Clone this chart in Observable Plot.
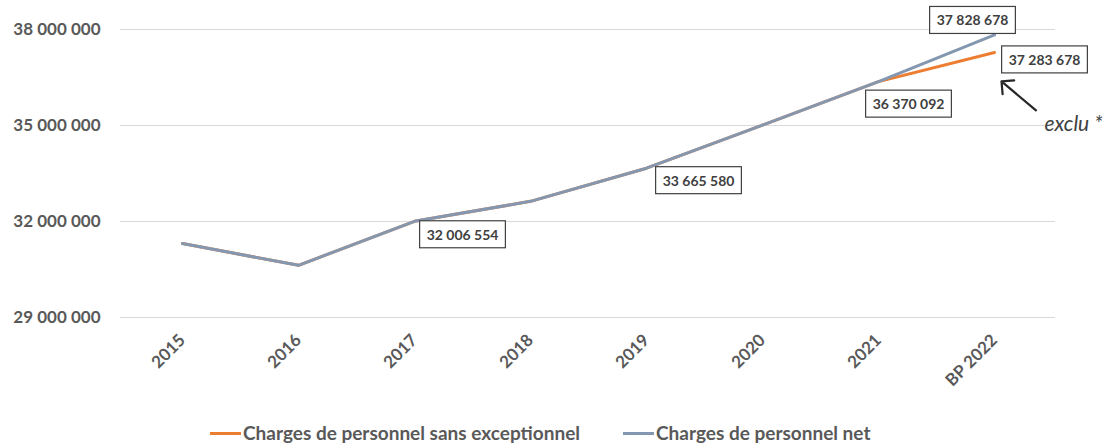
<!DOCTYPE html>
<html><head><meta charset="utf-8">
<script src="https://cdn.jsdelivr.net/npm/d3@7"></script>
<script src="https://cdn.jsdelivr.net/npm/@observablehq/plot@0.6"></script>
<style>
body{margin:0;background:#fff;font-family:Lato,"Open Sans",sans-serif;}
#wrap{position:relative;width:1116px;height:444px;}
#legend{position:absolute;left:210px;top:421px;display:flex;align-items:center;font-weight:700;font-size:19px;color:#595959;white-space:nowrap;line-height:24px;}
.sw{display:inline-block;width:31px;height:3px;margin-right:2px;}
.item{display:flex;align-items:center;}
</style></head><body>
<div id="wrap"><div id="chart"></div><div id="legend"></div></div>
<script>
const years = ["2015","2016","2017","2018","2019","2020","2021","BP 2022"];
const netValues = [31310000, 30630000, 32006554, 32630000, 33665580, 35010000, 36370092, 37828678];
const sansExceptionnelValues = [31310000, 30630000, 32006554, 32630000, 33665580, 35010000, 36370092, 37283678];
const yTicks = [29000000, 32000000, 35000000, 38000000];
const seriesNames = ["Charges de personnel sans exceptionnel", "Charges de personnel net"];
const seriesColors = ["#ed7d31", "#8497b0"];
const noteText = "exclu *";

const fmt = d => d3.format(",")(d).replace(/,/g, " ");
const net = years.map((y, i) => ({year: y, value: netValues[i]}));
const sans = years.map((y, i) => ({year: y, value: sansExceptionnelValues[i]}));
const pick = (arr, y) => arr.filter(d => d.year === y);
const lblStyle = {text: d => fmt(d.value), fontSize: 14, fontWeight: 700, fill: "#404040", className: "boxed"};

const chart = Plot.plot({
  width: 1116, height: 400,
  marginTop: 29, marginBottom: 83, marginLeft: 120, marginRight: 61,
  style: {fontFamily: "Lato, 'Open Sans', sans-serif", background: "#fff", overflow: "visible"},
  x: {type: "point", domain: years, padding: 0.5, label: null},
  y: {domain: [29000000, 38000000], ticks: yTicks, label: null},
  marks: [
    Plot.gridY(yTicks, {stroke: "#d9d9d9", strokeOpacity: 1, strokeWidth: 1}),
    Plot.axisY(yTicks, {tickSize: 0, tickPadding: 20, tickFormat: fmt, fontSize: 17, fontWeight: 700, fill: "#595959", label: null}),
    Plot.axisX({tickSize: 0, tickPadding: 20, tickRotate: -45, fontSize: 17, fontWeight: 700, fill: "#595959", label: null}),
    Plot.line(sans, {x: "year", y: "value", stroke: seriesColors[0], strokeWidth: 3}),
    Plot.line(net, {x: "year", y: "value", stroke: seriesColors[1], strokeWidth: 3}),
    Plot.text(pick(net, "2017"), {x: "year", y: "value", ...lblStyle, dx: 48, dy: 14}),
    Plot.text(pick(net, "2019"), {x: "year", y: "value", ...lblStyle, dx: 52, dy: 13}),
    Plot.text(pick(net, "2021"), {x: "year", y: "value", ...lblStyle, dx: 30, dy: 23}),
    Plot.text(pick(net, "BP 2022"), {x: "year", y: "value", ...lblStyle, dx: -22, dy: -14}),
    Plot.text(pick(sans, "BP 2022"), {x: "year", y: "value", ...lblStyle, dx: 50, dy: 8}),
    Plot.vector(pick(sans, "BP 2022"), {x: "year", y: "value", dx: 7, dy: 29, rotate: -50, length: 45, anchor: "end", shape: "arrow", stroke: "#262626", strokeWidth: 2.2}),
    Plot.text(pick(sans, "BP 2022"), {x: "year", y: "value", text: () => noteText, dx: 50, dy: 72, textAnchor: "start", fontSize: 21, fontStyle: "italic", fill: "#404040"})
  ]
});
document.getElementById("chart").appendChild(chart);

// boxes around data labels, sized from the rendered text
chart.querySelectorAll("g.boxed text").forEach(t => {
  const b = t.getBBox();
  const r = document.createElementNS("http://www.w3.org/2000/svg", "rect");
  const px = 7, py = 6;
  r.setAttribute("x", b.x - px); r.setAttribute("y", b.y - py + 1);
  r.setAttribute("width", b.width + 2 * px); r.setAttribute("height", b.height + 2 * py - 2);
  r.setAttribute("fill", "#fff"); r.setAttribute("stroke", "#404040"); r.setAttribute("stroke-width", 1.2);
  const tr = t.getAttribute("transform");
  if (tr) r.setAttribute("transform", tr);
  t.parentNode.insertBefore(r, t);
});

const legend = document.getElementById("legend");
seriesNames.forEach((name, i) => {
  const it = document.createElement("span");
  it.className = "item";
  if (i > 0) it.style.marginLeft = "43px";
  it.innerHTML = `<span class="sw" style="background:${seriesColors[i]}"></span><span>${name}</span>`;
  legend.appendChild(it);
});
</script>
</body></html>
